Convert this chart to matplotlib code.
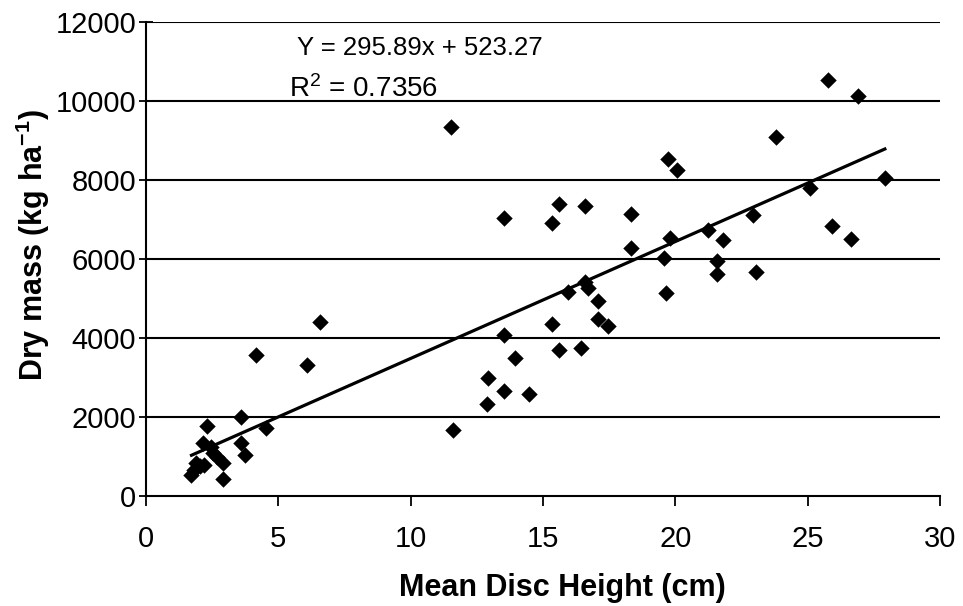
import matplotlib.pyplot as plt
import numpy as np

plt.rcParams['font.family'] = ['Liberation Sans', 'DejaVu Sans']
plt.rcParams['mathtext.fontset'] = 'custom'
plt.rcParams['mathtext.rm'] = 'Liberation Sans'
plt.rcParams['mathtext.bf'] = 'Liberation Sans:bold'
plt.rcParams['mathtext.default'] = 'regular'

# mean disc height (cm) and dry mass (kg/ha)
height = [1.7, 1.8, 1.9, 2.05, 2.2, 2.15, 2.3, 2.45, 2.55, 2.7, 2.9, 2.9,
          3.6, 3.6, 3.75, 4.55, 4.15, 6.09, 6.59,
          11.53, 11.6, 12.88, 12.94, 13.51, 13.51, 13.51, 13.96, 14.49,
          15.33, 15.33, 15.62, 15.62, 15.94, 16.42, 16.58, 16.58, 16.72,
          17.07, 17.07, 17.45, 18.34, 18.34,
          19.58, 19.65, 19.74, 19.81, 20.06, 21.25, 21.56, 21.56, 21.79,
          22.92, 23.07, 23.8, 25.08, 25.79, 25.91, 26.63, 26.89, 27.91]
dry_mass = [530, 650, 830, 760, 780, 1340, 1760, 1250, 1100, 1000, 830, 440,
            2000, 1340, 1040, 1730, 3570, 3310, 4400,
            9350, 1660, 2340, 3000, 4080, 2660, 7030, 3490, 2590,
            6900, 4360, 7400, 3700, 5160, 3740, 7350, 5420, 5270,
            4940, 4470, 4300, 7140, 6290,
            6030, 5140, 8540, 6540, 8260, 6730, 5940, 5610, 6480,
            7120, 5670, 9100, 7800, 10520, 6840, 6500, 10130, 8050]

slope = 295.89
intercept = 523.27
fit_range = [1.72, 27.92]

fig = plt.figure(figsize=(9.63, 6.06), dpi=100)
ax = fig.add_axes([0.1516, 0.1815, 0.8244, 0.7822])

for g in [2000, 4000, 6000, 8000, 10000, 12000]:
    ax.axhline(g, color='black', lw=1.5, zorder=1)

ax.scatter(height, dry_mass, marker='D', s=70, color='black', zorder=3, linewidths=0)

fx = np.array(fit_range)
ax.plot(fx, slope * fx + intercept, color='black', lw=2.3, zorder=2)

ax.set_xlim(0, 30)
ax.set_ylim(0, 12000)
ax.set_xticks([0, 5, 10, 15, 20, 25, 30])
ax.set_yticks([0, 2000, 4000, 6000, 8000, 10000, 12000])
ax.tick_params(axis='both', labelsize=21, width=1.3, colors='black')
ax.tick_params(axis='x', direction='out', length=7, pad=14)
ax.tick_params(axis='y', direction='inout', length=10, pad=2)

for s in ['top', 'right']:
    ax.spines[s].set_visible(False)
for s in ['left', 'bottom']:
    ax.spines[s].set_linewidth(1.5)

ax.set_xlabel('Mean Disc Height (cm)', fontsize=22, fontweight='bold')
ax.xaxis.set_label_coords(0.524, -0.163)
ax.set_ylabel('Dry mass (kg ha$^{\\mathbf{-1}}$)', fontsize=22, fontweight='bold')
ax.yaxis.set_label_coords(-0.118, 0.53)

ax.text(5.7, 11350, 'Y = 295.89x + 523.27', fontsize=18.5, ha='left', va='center')
ax.text(5.4, 10300, 'R$^2$ = 0.7356', fontsize=20, ha='left', va='center')

fig.savefig('out.png', dpi=100)
